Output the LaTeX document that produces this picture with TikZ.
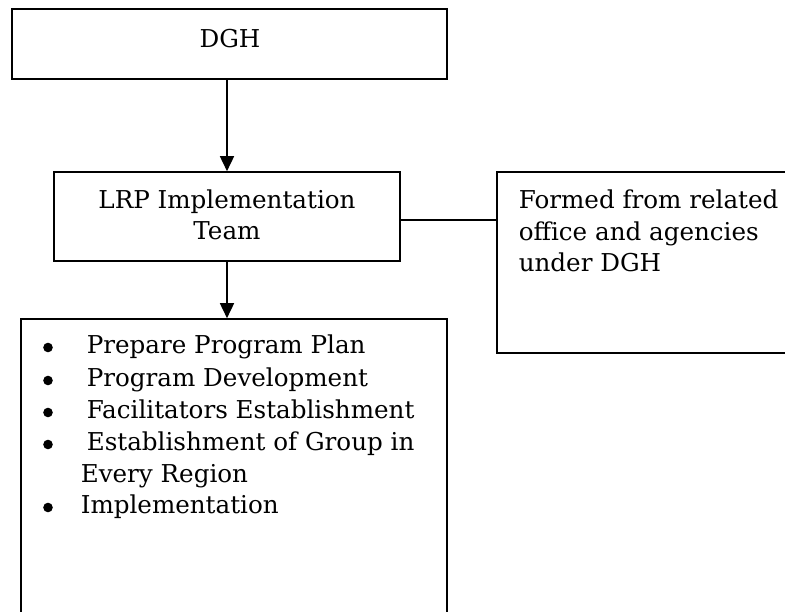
\documentclass[tikz,border=0pt]{standalone}
\usepackage{fontspec}
\setmainfont{DejaVu Serif}
\usetikzlibrary{arrows.meta}
\begin{document}
\begin{tikzpicture}[x=1pt, y=1pt, line width=1.6pt,
  font=\fontsize{24.6}{32}\selectfont,
  box/.style={draw, rectangle, inner sep=0pt},
  link/.style={-{Triangle[length=15pt, width=14pt]}},
  ctext/.style={inner sep=0pt, anchor=base},
  ltext/.style={inner sep=0pt, anchor=base west}]
\useasboundingbox (0,0) rectangle (785,-611);
\clip (0,0) rectangle (785,-611);

% boxes
\node[box, minimum width=435, minimum height=70]  (dgh)  at (229.5,-44)   {};
\node[box, minimum width=346, minimum height=89]  (lrp)  at (227,-216.5)  {};
\node[box, minimum width=308, minimum height=181] (note) at (651,-262.5)  {};
\node[box, minimum width=426, minimum height=341] (plan) at (234,-489.5)  {};

% connectors
\coordinate (side) at ([yshift=-3.5pt]lrp.east);
\draw[link] (lrp.north |- dgh.south) -- (lrp.north);
\draw[link] (lrp.south) -- (lrp.south |- plan.north);
\draw (side) -- (side -| note.west);

% box texts
\node[ctext] (dghtext)  at (230,-47)  {DGH};
\node[ctext] (lrptext1) at (227,-208) {LRP Implementation};
\node[ctext] (lrptext2) at (227,-239) {Team};

\node[ltext] (notetext1) at (518,-208) {Formed from related};
\node[ltext] (notetext2) at (518,-240) {office and agencies};
\node[ltext] (notetext3) at (518,-271) {under DGH};

% task list
\foreach \yy in {353,386,418,450,513}
  \fill (48,-\yy+5.5) circle (4.8);
\node[ltext] (item1)  at (86,-353) {Prepare Program Plan};
\node[ltext] (item2)  at (86,-386) {Program Development};
\node[ltext] (item3)  at (86,-418) {Facilitators Establishment};
\node[ltext] (item4)  at (86,-450) {Establishment of Group in};
\node[ltext] (item4b) at (80,-482) {Every Region};
\node[ltext] (item5)  at (80,-513) {Implementation};
\end{tikzpicture}
\end{document}
